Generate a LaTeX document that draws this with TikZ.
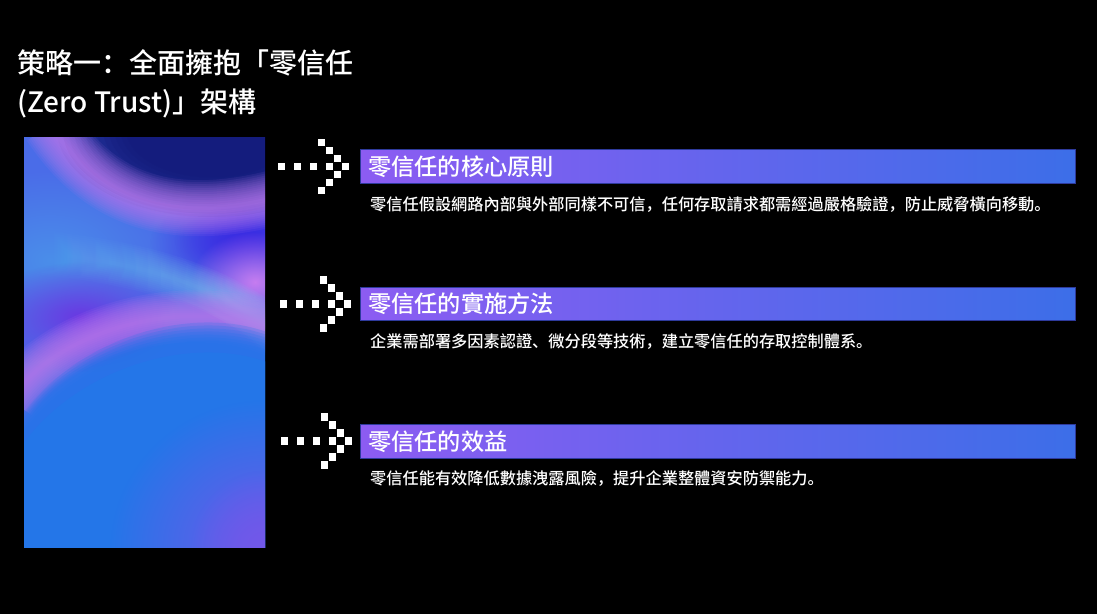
\documentclass[tikz,border=0pt]{standalone}
\usepackage{fontspec}
\setmainfont{Noto Sans CJK SC}
\newfontfamily\medfont{Noto Sans CJK SC Medium}
\usetikzlibrary{fadings}
\tikzfading[name=softblob, inner color=transparent!0, outer color=transparent!100]
\tikzfading[name=fadeL, left color=transparent!100, right color=transparent!0]
\definecolor{barL}{HTML}{8C5CF2}
\definecolor{barR}{HTML}{3C6EE8}
\definecolor{barB}{HTML}{2E3A9C}
\definecolor{imgbase}{HTML}{4A6CE8}
\definecolor{ltblue}{HTML}{4A8EEA}
\definecolor{indigo}{HTML}{3A2CE2}
\definecolor{navy}{HTML}{101674}
\definecolor{pinkv}{HTML}{C67CF0}
\definecolor{violet}{HTML}{6A38E2}
\definecolor{cyanb}{HTML}{82D6F2}
\definecolor{dome}{HTML}{2476E8}
\definecolor{purpb}{HTML}{7258EA}
\tikzset{
  bar/.style={draw=barB, line width=0.8pt, left color=barL, right color=barR,
    minimum width=715pt, minimum height=33.5pt, inner sep=0pt, anchor=west},
  head/.style={text=white, font=\fontsize{23.2}{27}\medfont, anchor=west, inner sep=0pt},
  body/.style={text=white, font=\fontsize{16.2}{19}\medfont, anchor=west, inner sep=0pt},
  title/.style={text=white, font=\fontsize{28}{34}\medfont, anchor=west, inner sep=0pt},
  px/.style={fill=white},
}
\newcommand{\pixarrow}[2]{%
  \foreach \c/\r in {-5/0,-3/0,-1/0,1/0,3/0,0/-3,0/3,1/-2,1/2,2/-1,2/1}{%
    \fill[px] ({#1+8*\c+0.4},{#2-4+8*\r+0.4}) rectangle ++(7.2,7.2);
  }%
}
\begin{document}
\begin{tikzpicture}[x=1pt,y=-1pt]
\fill[black] (0,0) rectangle (1097,614);
\useasboundingbox (0,0) rectangle (1097,614);

% title
\node[title] (t1) at (17,63) {策略一：全面擁抱「零信任};
\node[title] (t2) at (17,103) {(Zero Trust)」架構};

% image
\begin{scope}
\clip (24,137) rectangle (265,547);
\fill[imgbase] (24,137) rectangle (265,547);
\fill[ltblue, path fading=softblob] (-80,170) rectangle (180,350);
\fill[indigo, path fading=softblob] (150,185) rectangle (340,300);
\fill[indigo, path fading=softblob] (175,200) rectangle (320,280);
% navy blob
\foreach \s in {1.35,1.3,...,0.7}
  \fill[navy, opacity=0.16] (212,128) ellipse ({115*\s} and {66*\s});
% upper pink arc
\foreach \w in {4,8,...,56}
  \draw[pinkv, line width=\w, opacity=0.09] (50,125) .. controls (100,200) and (170,226) .. (282,196);
% left violet
\fill[violet, path fading=softblob] (-20,262) rectangle (180,372);
% right pink
\fill[pinkv, path fading=softblob] (190,232) rectangle (320,332);
% cyan band
\foreach \w in {4,8,...,44}
  \draw[cyanb, line width=\w, opacity=0.09, path fading=fadeL] (30,252) .. controls (150,262) and (232,290) .. (290,345);
% lower pink band
\foreach \w in {4,8,...,52}
  \draw[pinkv, line width=\w, opacity=0.1] (10,400) .. controls (60,325) and (200,292) .. (285,336);
% dome with soft edge
\foreach \d in {-8,-5,...,12}
  \fill[dome, opacity=0.22, yshift=\d] (10,445) .. controls (60,350) and (200,305) .. (285,350) -- (285,600) -- (10,600) -- cycle;
\fill[dome] (10,465) .. controls (60,370) and (200,325) .. (285,370) -- (285,600) -- (10,600) -- cycle;
\fill[purpb, path fading=softblob] (110,400) rectangle (420,700);
\fill[purpb, path fading=softblob] (190,470) rectangle (340,630);
\end{scope}

% arrows
\pixarrow{317.3}{166.5}
\pixarrow{319.3}{304}
\pixarrow{320.7}{441}

% bars
\node[bar] (b1) at (360,166.5) {};
\node[bar] (b2) at (360,304) {};
\node[bar] (b3) at (360,441.3) {};
\node[head] (h1) at (368,166.5) {零信任的核心原則};
\node[head] (h2) at (368,304) {零信任的實施方法};
\node[head] (h3) at (368,441.3) {零信任的效益};
\node[body] (d1) at (370,205) {零信任假設網路內部與外部同樣不可信，任何存取請求都需經過嚴格驗證，防止威脅橫向移動。};
\node[body] (d2) at (370,342) {企業需部署多因素認證、微分段等技術，建立零信任的存取控制體系。};
\node[body] (d3) at (370,479) {零信任能有效降低數據洩露風險，提升企業整體資安防禦能力。};
\end{tikzpicture}
\end{document}
